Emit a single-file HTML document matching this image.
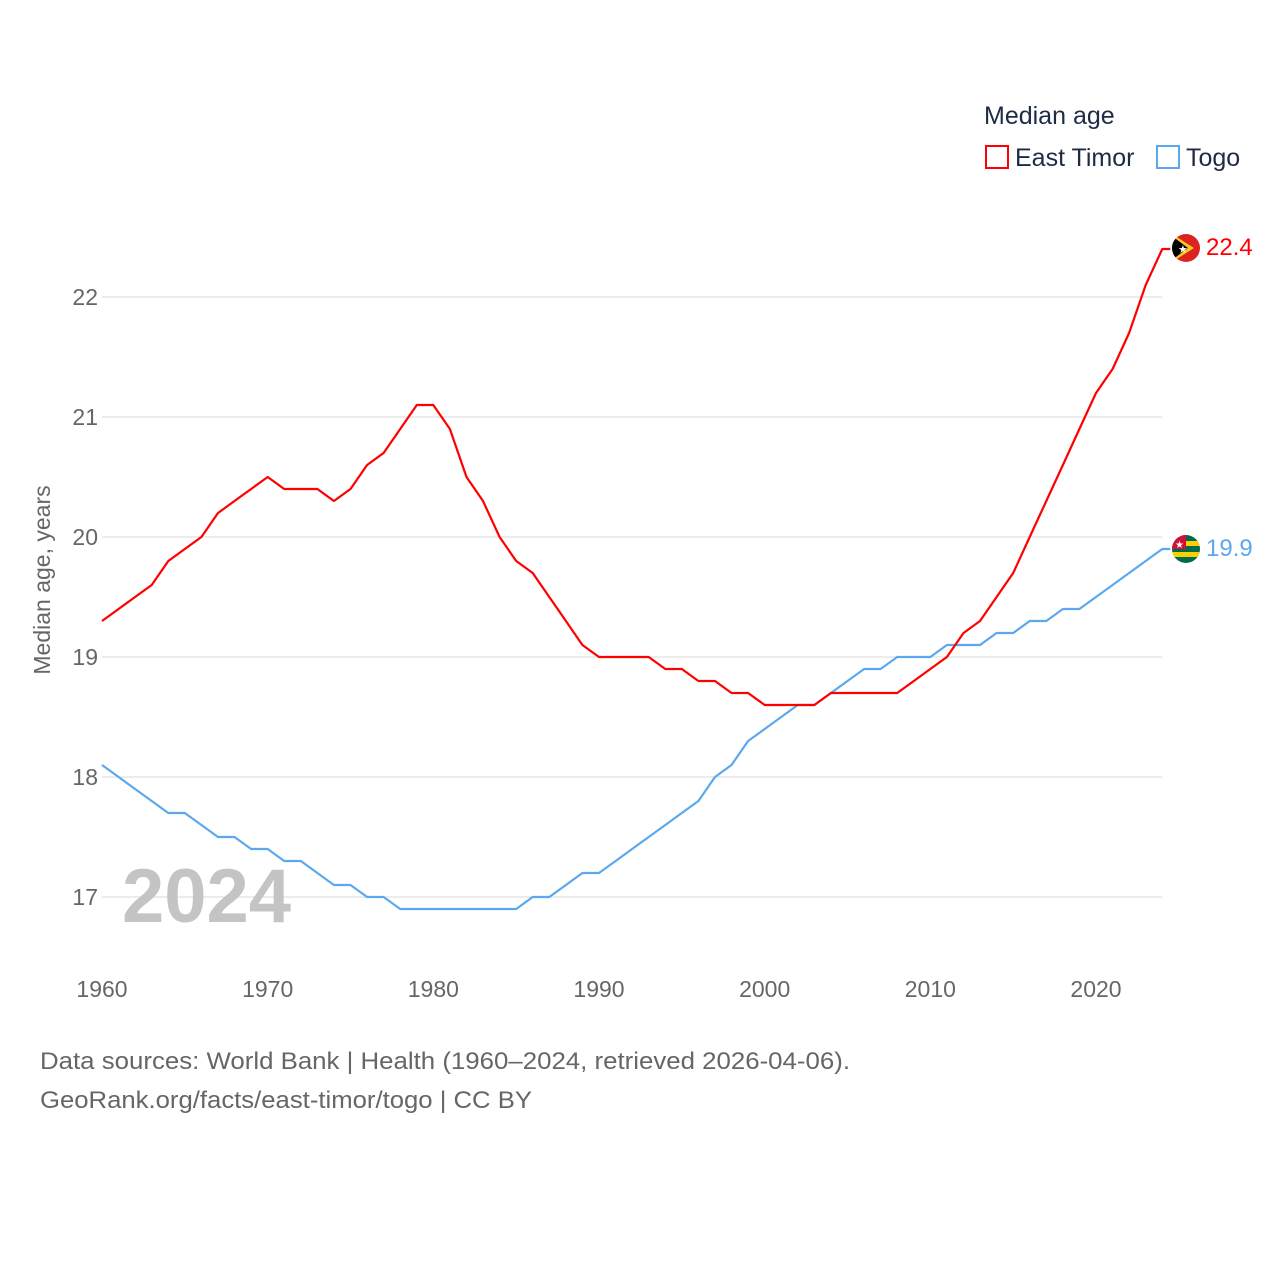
<!DOCTYPE html>
<html><head><meta charset="utf-8"><style>
body{margin:0;background:#fff;font-family:"Liberation Sans",sans-serif}
svg text{font-family:"Liberation Sans",sans-serif}
</style></head><body>
<svg id="chart" width="1280" height="1280" viewBox="0 0 1280 1280" xmlns="http://www.w3.org/2000/svg">
<g id="grid"></g>
<g id="yticks"></g>
<g id="xticks"></g>
<text x="122" y="922" font-size="76" font-weight="bold" fill="#c4c4c4">2024</text>
<text transform="translate(50,580) rotate(-90)" text-anchor="middle" font-size="23" fill="#666">Median age, years</text>
<g id="series"></g>
<g>
<text x="984" y="124" font-size="25" fill="#1d2b44">Median age</text>
<rect x="986" y="146" width="22" height="22" fill="none" stroke="#ff0000" stroke-width="2"/>
<text x="1015" y="166" font-size="25" fill="#1d2b44">East Timor</text>
<rect x="1157" y="146" width="22" height="22" fill="none" stroke="#5ba8f0" stroke-width="2"/>
<text x="1186" y="166" font-size="25" fill="#1d2b44">Togo</text>
</g>
<g>
<clipPath id="c1"><circle cx="1186" cy="248" r="14"/></clipPath>
<g clip-path="url(#c1)"><rect x="1172" y="234" width="28" height="28" fill="#dc241f"/><polygon points="1172,234 1194,248 1172,262" fill="#ffc726"/><polygon points="1172,236 1188,248 1172,260" fill="#000"/></g>
<text x="1178" y="253" font-size="11" fill="#fff">★</text>
</g>
<g>
<clipPath id="c2"><circle cx="1186" cy="549" r="14"/></clipPath>
<g clip-path="url(#c2)"><rect x="1172" y="535" width="28" height="28" fill="#006a4e"/><rect x="1172" y="541" width="28" height="5" fill="#ffce00"/><rect x="1172" y="552" width="28" height="5" fill="#ffce00"/><rect x="1172" y="535" width="14" height="14" fill="#d21034"/></g>
<text x="1175" y="548" font-size="10" fill="#fff">★</text>
</g>
<text id="lblET" x="1206" y="255" font-size="24" fill="#ff0000">22.4</text>
<text id="lblTG" x="1206" y="556" font-size="24" fill="#5ba8f0">19.9</text>
<text x="40" y="1069" font-size="24" fill="#666" textLength="810" lengthAdjust="spacingAndGlyphs">Data sources: World Bank | Health (1960–2024, retrieved 2026-04-06).</text>
<text x="40" y="1108" font-size="24" fill="#666" textLength="492" lengthAdjust="spacingAndGlyphs">GeoRank.org/facts/east-timor/togo | CC BY</text>
</svg>
<script>
const years = [];
for (let y = 1960; y <= 2024; y++) years.push(y);
const eastTimor = [19.3,19.4,19.5,19.6,19.8,19.9,20.0,20.2,20.3,20.4,20.5,20.4,20.4,20.4,20.3,20.4,20.6,20.7,20.9,21.1,21.1,20.9,20.5,20.3,20.0,19.8,19.7,19.5,19.3,19.1,19.0,19.0,19.0,19.0,18.9,18.9,18.8,18.8,18.7,18.7,18.6,18.6,18.6,18.6,18.7,18.7,18.7,18.7,18.7,18.8,18.9,19.0,19.2,19.3,19.5,19.7,20.0,20.3,20.6,20.9,21.2,21.4,21.7,22.1,22.4];
const togo = [18.1,18.0,17.9,17.8,17.7,17.7,17.6,17.5,17.5,17.4,17.4,17.3,17.3,17.2,17.1,17.1,17.0,17.0,16.9,16.9,16.9,16.9,16.9,16.9,16.9,16.9,17.0,17.0,17.1,17.2,17.2,17.3,17.4,17.5,17.6,17.7,17.8,18.0,18.1,18.3,18.4,18.5,18.6,18.6,18.7,18.8,18.9,18.9,19.0,19.0,19.0,19.1,19.1,19.1,19.2,19.2,19.3,19.3,19.4,19.4,19.5,19.6,19.7,19.8,19.9];
const yTicks = [17,18,19,20,21,22];
const xTicks = [1960,1970,1980,1990,2000,2010,2020];
const NS = 'http://www.w3.org/2000/svg';
const xs = y => 102 + (y - 1960) * (994 / 60);
const ys = v => 297 + (22 - v) * 120;
function mk(tag, attrs, parent) {
  const e = document.createElementNS(NS, tag);
  for (const k in attrs) e.setAttribute(k, attrs[k]);
  parent.appendChild(e); return e;
}
const grid = document.getElementById('grid'), yt = document.getElementById('yticks'), xt = document.getElementById('xticks');
yTicks.forEach(v => {
  const l = mk('line', {x1: 102, x2: 1162, y1: ys(v), y2: ys(v), stroke: '#e6e6e6', 'stroke-width': 1.5}, grid);
  
  
  const t = mk('text', {x: 98, y: ys(v) + 8, 'text-anchor': 'end', 'font-size': 23, fill: '#666'}, yt);
  
  
  t.textContent = v;
});
xTicks.forEach(v => {
  const t = mk('text', {x: xs(v), y: 997, 'text-anchor': 'middle', 'font-size': 23, fill: '#666'}, xt);
  
  
  t.textContent = v;
});
const ser = document.getElementById('series');
function line(vals, color, name) {
  let d = vals.map((v, i) => (i ? 'L' : 'M') + xs(years[i]).toFixed(1) + ',' + ys(v).toFixed(1)).join(' ');
  d += ' L' + (xs(years[years.length - 1]) + 8) + ',' + ys(vals[vals.length - 1]).toFixed(1);
  const p = mk('path', {d: d, fill: 'none', stroke: color, 'stroke-width': 2.2, 'stroke-linejoin': 'round'}, ser);
  
  
}
line(togo, '#5ba8f0', 'togo-line');
line(eastTimor, '#ff0000', 'east-timor-line');
document.getElementById('lblET').textContent = eastTimor[eastTimor.length - 1].toFixed(1);
document.getElementById('lblTG').textContent = togo[togo.length - 1].toFixed(1);
</script>
</body></html>
